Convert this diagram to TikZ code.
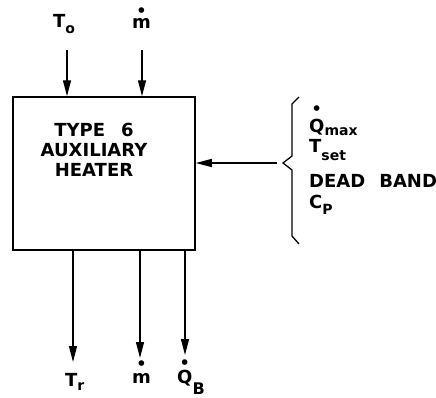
\documentclass[tikz,border=0pt]{standalone}
\usepackage{fontspec}
\setmainfont{DejaVu Sans}
\usetikzlibrary{arrows.meta}
\tikzset{
  heaterbox/.style = {draw, line width=1.5pt, minimum width=182pt, minimum height=153pt, inner sep=0pt},
  flowarr/.style   = {-{Triangle[length=16pt,width=8pt]}, line width=1.3pt},
  varlbl/.style    = {font=\fontsize{18}{20}\selectfont\bfseries, inner sep=0pt, anchor=base west}
}
\newcommand{\lowsub}[2]{\raisebox{#1}{\fontsize{14}{16}\selectfont #2}}
% dot set high over a letter (rate)
\newcommand{\topdot}[2]{\leavevmode\setbox0\hbox{#2}%
  \makebox[0pt][l]{\makebox[\wd0]{\raisebox{#1}{\fontsize{16}{16}\selectfont\textbullet}}}\box0}

\begin{document}
\begin{tikzpicture}[x=1pt,y=-1pt]
  \useasboundingbox (0,0) rectangle (436,397);
  % component
  \node[heaterbox] (htr) at (104,173.5) {};
  \node[varlbl,align=center,anchor=center] (hname) at (94,150)
        {TYPE\hspace{16pt}6\\AUXILIARY\\HEATER};
  % inputs at top
  \node[varlbl] (lTo) at (53,27) {T\lowsub{-6pt}{o}};
  \node[varlbl] (lmin) at (132,28) {\topdot{12pt}{m}};
  \coordinate (sTo) at (67,50);
  \coordinate (smin) at (142,50);
  \draw[flowarr] (sTo) -- (sTo |- htr.north);
  \draw[flowarr] (smin) -- (smin |- htr.north);
  % outputs at bottom
  \coordinate (eTr) at (73,362);
  \coordinate (emout) at (140,358);
  \coordinate (eQB) at (185,355);
  \draw[flowarr] (htr.south -| eTr) -- (eTr);
  \draw[flowarr] (htr.south -| emout) -- (emout);
  \draw[flowarr] (htr.south -| eQB) -- (eQB);
  \node[varlbl] (lTr) at (65,386) {T\lowsub{-4pt}{r}};
  \node[varlbl] (lmout) at (132,383) {\topdot{14pt}{m}};
  \node[varlbl] (lQB) at (177,383) {\topdot{15pt}{Q}\lowsub{-11pt}{\fontsize{16}{18}\selectfont B}};
  % parameters
  \draw[line width=1.3pt] (299,97) -- (292,104) -- (292,156) -- (283,163)
        -- (292,170) -- (292,236) -- (299,244);
  \coordinate (bTip) at (277,163);
  \draw[flowarr] (bTip) -- (htr.east |- bTip);
  \node[varlbl] (pQmax) at (309,132) {\topdot{18pt}{Q}\lowsub{-3pt}{max}};
  \node[varlbl] (pTset) at (309,152) {T\lowsub{-8pt}{set}};
  \node[varlbl] (pband) at (309,187) {DEAD\hspace{14pt}BAND};
  \node[varlbl] (pcp) at (309,208) {C\lowsub{-6pt}{P}};
\end{tikzpicture}
\end{document}
